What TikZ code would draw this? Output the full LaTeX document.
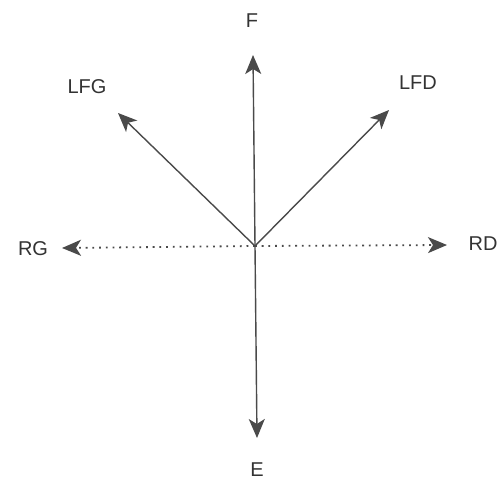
\documentclass[tikz,border=0pt]{standalone}
\usepackage{fontspec}
\setmainfont{Liberation Sans}
\usetikzlibrary{arrows.meta}
\definecolor{ink}{HTML}{4A4A4A}
\definecolor{txt}{HTML}{333333}
\begin{document}
\begin{tikzpicture}[x=1pt,y=-1pt,
  lbl/.style={text=txt,font=\fontsize{20}{20}\selectfont,inner sep=0pt},
  vec/.style={draw=ink,line width=1.4pt,-{Stealth[length=19pt,width=16pt,inset=5pt]}},
  dotvec/.style={vec,line width=1.8pt,dash pattern=on 1.8pt off 4.9pt}]
\useasboundingbox (0,0) rectangle (502,481);
\coordinate (O) at (255,246);
\coordinate (tF) at (253,55);
\coordinate (tE) at (257,438);
\coordinate (tRG) at (62,248);
\coordinate (tRD) at (447,245);
\coordinate (tLFG) at (118,113);
\coordinate (tLFD) at (389,110);
\node[lbl] (F) at (252,21) {F};
\node[lbl] (E) at (257,470) {E};
\node[lbl] (RG) at (33,249) {RG};
\node[lbl] (RD) at (483,244) {RD};
\node[lbl] (LFG) at (87,87) {LFG};
\node[lbl] (LFD) at (418,83) {LFD};
\draw[vec] (O) -- (tF);
\draw[vec] (O) -- (tE);
\draw[vec] (O) -- (tLFG);
\draw[vec] (O) -- (tLFD);
\draw[dotvec] (O) -- (tRG);
\draw[dotvec] (O) -- (tRD);
\end{tikzpicture}
\end{document}
